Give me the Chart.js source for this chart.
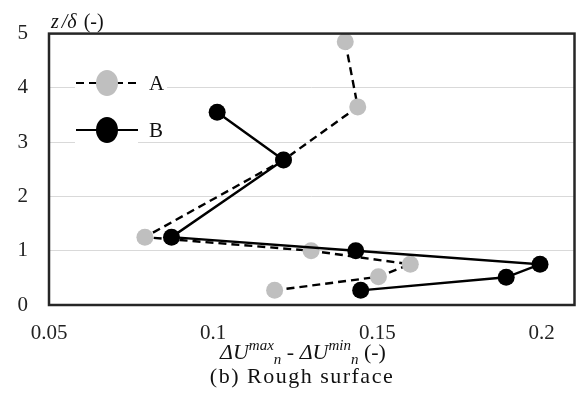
<!DOCTYPE html>
<html>
<head>
<meta charset="utf-8">
<script src="https://cdn.jsdelivr.net/npm/chart.js@4"></script>
<style>
    html, body { margin: 0; padding: 0; background: #fff; }
    #wrap { width: 583px; height: 404px; }
</style>
</head>
<body>
<div id="wrap"><canvas id="chart"></canvas></div>
<script>
// datos
const seriesNames = ['A', 'B'];
const zA = [4.85, 3.65, 2.67, 1.25, 1.0, 0.75, 0.52, 0.27];
const duA = [0.1402, 0.1440, 0.1214, 0.0792, 0.1298, 0.1600, 0.1503, 0.1187];
const zB = [3.55, 2.67, 1.25, 1.0, 0.75, 0.51, 0.27];
const duB = [0.1012, 0.1214, 0.0873, 0.1434, 0.1995, 0.1892, 0.1449];
const xTicks = [0.05, 0.1, 0.15, 0.2];
const yTicks = [0, 1, 2, 3, 4, 5];

const SERIF = '"Liberation Serif", "DejaVu Serif", serif';
const GRAY = '#bfbfbf';

const toPoints = (xs, ys) => xs.map((x, i) => ({ x, y: ys[i] }));

// marco, títulos y leyenda
const decor = {
    id: 'decor',
    beforeDatasetsDraw(chart) {
        const { ctx } = chart;
        // fondo blanco de la leyenda (tapa la rejilla)
        ctx.save();
        ctx.fillStyle = '#fff';
        ctx.fillRect(75, 66, 92, 24);
        ctx.fillRect(75, 116, 63, 27);
        ctx.restore();
    },
    afterDraw(chart) {
        const { ctx, chartArea: a } = chart;
        ctx.save();

        ctx.strokeStyle = '#262626';
        ctx.lineWidth = 2.5;
        ctx.strokeRect(a.left, a.top, a.right - a.left, a.bottom - a.top);

        // leyenda
        const items = [
            { y: 83, color: GRAY, dash: [8, 5] },
            { y: 130, color: '#000', dash: [] }
        ];
        items.forEach((it, i) => {
            ctx.strokeStyle = '#000';
            ctx.lineWidth = 2.2;
            ctx.setLineDash(it.dash);
            ctx.beginPath();
            ctx.moveTo(76, it.y);
            ctx.lineTo(138, it.y);
            ctx.stroke();
            ctx.setLineDash([]);
            ctx.fillStyle = it.color;
            ctx.beginPath();
            ctx.ellipse(107, it.y, 11, 13, 0, 0, Math.PI * 2);
            ctx.fill();
            ctx.fillStyle = '#111';
            ctx.font = '21px ' + SERIF;
            ctx.textBaseline = 'alphabetic';
            ctx.textAlign = 'left';
            ctx.fillText(seriesNames[i], 149, it.y + 7);
        });

        // título eje y
        ctx.fillStyle = '#111';
        ctx.font = 'italic 20px ' + SERIF;
        ctx.fillText('z', 51, 28);
        let x = 51 + ctx.measureText('z').width + 3;
        ctx.fillText('/δ', x, 28);
        x += ctx.measureText('/δ').width + 7;
        ctx.font = '20px ' + SERIF;
        ctx.fillText('(-)', x, 28);

        // título eje x
        const big = 'italic 22px ' + SERIF;
        const small = 'italic 15px ' + SERIF;
        const up = '22px ' + SERIF;
        const parts = [
            { t: 'ΔU', f: big, dy: 0 },
            { t: 'max', f: small, dy: -9 },
            { t: 'n', f: small, dy: 5 },
            { t: ' - ', f: up, dy: 0 },
            { t: 'ΔU', f: big, dy: 0 },
            { t: 'min', f: small, dy: -9 },
            { t: 'n', f: small, dy: 5 },
            { t: ' (-)', f: up, dy: 0 }
        ];
        let total = 0;
        parts.forEach(p => { ctx.font = p.f; p.w = ctx.measureText(p.t).width; total += p.w; });
        x = 303 - total / 2;
        parts.forEach(p => {
            ctx.font = p.f;
            ctx.fillText(p.t, x, 359 + p.dy);
            x += p.w;
        });

        // pie de figura
        ctx.font = '22px ' + SERIF;
        ctx.textAlign = 'center';
        ctx.letterSpacing = '1.5px';
        ctx.fillText('(b) Rough surface', 302, 383);
        ctx.restore();
    }
};

new Chart(document.getElementById('chart'), {
    type: 'scatter',
    data: {
        datasets: [
            {
                label: seriesNames[0],
                data: toPoints(duA, zA),
                showLine: true,
                borderColor: '#000',
                borderWidth: 2.4,
                borderDash: [8, 5],
                backgroundColor: GRAY,
                pointBackgroundColor: GRAY,
                pointBorderColor: GRAY,
                pointBorderWidth: 0,
                pointRadius: 8.5,
                pointHoverRadius: 8.5,
                tension: 0,
                order: 2
            },
            {
                label: seriesNames[1],
                data: toPoints(duB, zB),
                showLine: true,
                borderColor: '#000',
                borderWidth: 2.4,
                backgroundColor: '#000',
                pointBackgroundColor: '#000',
                pointBorderColor: '#000',
                pointBorderWidth: 0,
                pointRadius: 8.5,
                pointHoverRadius: 8.5,
                tension: 0,
                order: 1
            }
        ]
    },
    options: {
        responsive: true,
        maintainAspectRatio: false,
        animation: false,
        layout: { padding: { top: 31, right: 3, left: 0, bottom: 0 } },
        plugins: {
            legend: { display: false },
            tooltip: { enabled: false }
        },
        scales: {
            x: {
                type: 'linear',
                min: 0.05,
                max: 0.21,
                afterBuildTicks: s => { s.ticks = xTicks.map(v => ({ value: v })); },
                afterFit: s => { s.height = 99; },
                grid: { display: false, drawTicks: false },
                border: { display: false },
                ticks: {
                    padding: 16,
                    color: '#222',
                    font: { family: SERIF, size: 21 },
                    callback: v => String(+v.toFixed(2))
                }
            },
            y: {
                type: 'linear',
                min: 0,
                max: 5,
                afterBuildTicks: s => { s.ticks = yTicks.map(v => ({ value: v })); },
                afterFit: s => { s.width = 49; },
                grid: { color: '#d9d9d9', lineWidth: 1, drawTicks: false },
                border: { display: false },
                ticks: {
                    padding: 21,
                    color: '#222',
                    font: { family: SERIF, size: 21 }
                }
            }
        }
    },
    plugins: [decor]
});
</script>
</body>
</html>
